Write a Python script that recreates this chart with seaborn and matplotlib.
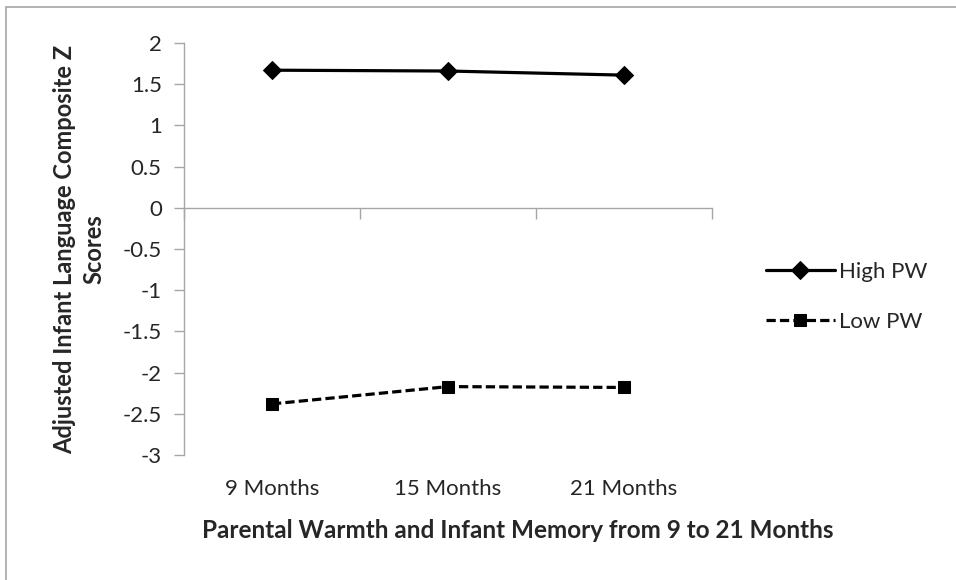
import matplotlib
matplotlib.use("Agg")
import matplotlib.pyplot as plt
import seaborn as sns
import pandas as pd
from matplotlib.patches import Rectangle

months = ["9 Months", "15 Months", "21 Months"]
high_pw = [1.67, 1.66, 1.61]
low_pw = [-2.38, -2.17, -2.18]
y_ticks = [2, 1.5, 1, 0.5, 0, -0.5, -1, -1.5, -2, -2.5, -3]

df = pd.DataFrame({
    "month": months * 2,
    "score": high_pw + low_pw,
    "group": ["High PW"] * 3 + ["Low PW"] * 3,
})

sns.set_theme(style="white")
plt.rcParams["font.family"] = ["Lato", "DejaVu Sans"]

fig = plt.figure(figsize=(9.56, 5.8), dpi=100)
ax = fig.add_axes([184 / 956, 1 - 455 / 580, 528 / 956, 412 / 580])

sns.lineplot(data=df, x="month", y="score", hue="group", style="group",
             palette=["black", "black"],
             markers={"High PW": "D", "Low PW": "s"},
             dashes={"High PW": "", "Low PW": (2.9, 1.3)},
             markersize=9, linewidth=2.3, markeredgecolor="black",
             sort=False, ax=ax)

grey = "#A6A6A6"
ax.set_xlim(-0.5, 2.5)
ax.set_ylim(-3, 2)
ax.set_yticks(y_ticks)
ax.set_yticklabels([f"{v:g}" for v in y_ticks])
ax.tick_params(axis="y", length=7, width=1, color=grey, labelsize=16, pad=9,
               left=True)

# category axis crosses at zero, labels sit below the plot area
ax.spines["bottom"].set_position(("data", 0))
ax.set_xticks([-0.5, 0.5, 1.5, 2.5])
ax.set_xticklabels([])
ax.set_xticks([0, 1, 2], minor=True)
ax.set_xticklabels(months, minor=True)
ax.tick_params(axis="x", which="major", length=8, width=1, color=grey,
               bottom=True, direction="out")
ax.tick_params(axis="x", which="minor", length=0, labelsize=16, pad=195)

for s in ["top", "right"]:
    ax.spines[s].set_visible(False)
for s in ["left", "bottom"]:
    ax.spines[s].set_color(grey)
    ax.spines[s].set_linewidth(1)

ax.set_xlabel("Parental Warmth and Infant Memory from 9 to 21 Months",
              fontsize=17.5, fontweight="bold")
ax.xaxis.set_label_coords((202 - 184) / 528, -(531 - 455) / 412)
ax.xaxis.label.set_ha("left")
ax.xaxis.label.set_va("center")

ax.set_ylabel("Adjusted Infant Language Composite Z\nScores",
              fontsize=17, fontweight="bold", linespacing=1.35)
ax.yaxis.set_label_coords(-(184 - 79) / 528, 0.5)
ax.yaxis.label.set_va("center")

leg = ax.legend(loc="center left", bbox_to_anchor=(757 / 956, 1 - 297 / 580),
                bbox_transform=fig.transFigure, frameon=False, fontsize=16,
                handlelength=3.1, labelspacing=1.35, handletextpad=0.2,
                borderaxespad=0)

fig.patches.append(Rectangle((6 / 956, -0.01), 1.0, 1 - 7 / 580 + 0.01,
                             transform=fig.transFigure, fill=False,
                             edgecolor=grey, linewidth=1.2))

fig.savefig("out.png", dpi=100)
